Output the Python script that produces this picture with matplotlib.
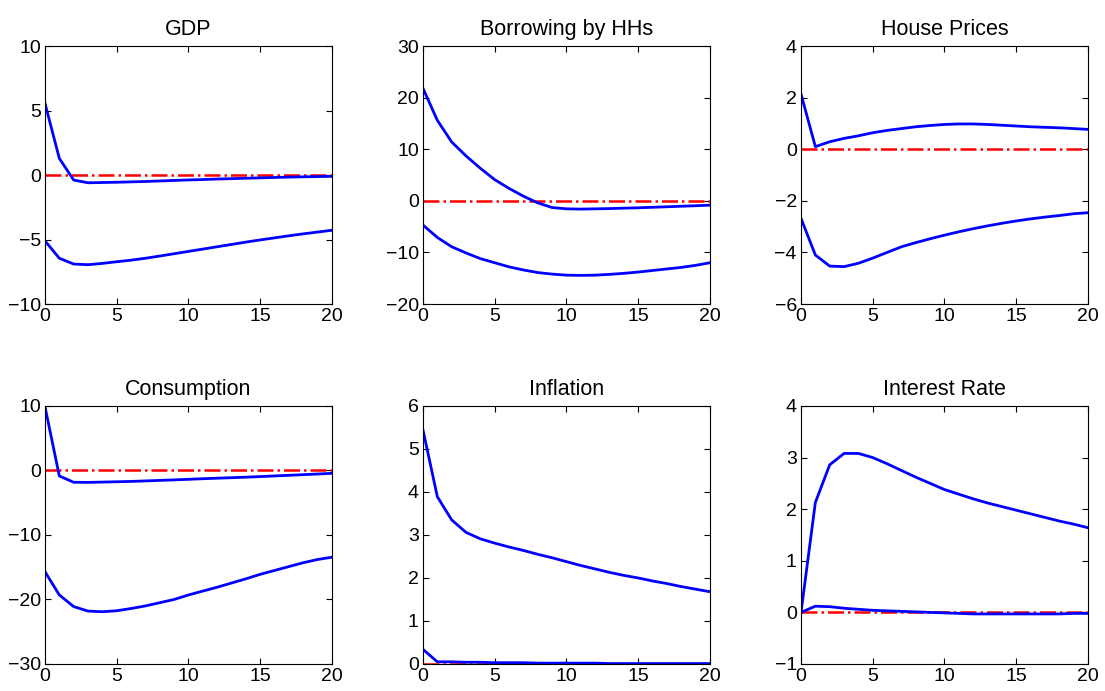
import matplotlib
matplotlib.use("Agg")
import matplotlib.pyplot as plt
import numpy as np

plt.rcParams['font.family'] = ['Liberation Sans', 'DejaVu Sans']

horizon = np.arange(21)

titles = ["GDP", "Borrowing by HHs", "House Prices",
          "Consumption", "Inflation", "Interest Rate"]

gdp_upper = [5.56, 1.29, -0.39, -0.6, -0.58, -0.56, -0.53, -0.5, -0.46, -0.42, -0.38,
             -0.35, -0.31, -0.28, -0.25, -0.22, -0.19, -0.16, -0.14, -0.12, -0.1]
gdp_lower = [-5.1, -6.45, -6.9, -6.95, -6.85, -6.72, -6.6, -6.45, -6.28, -6.1, -5.92,
             -5.74, -5.56, -5.38, -5.2, -5.03, -4.87, -4.71, -4.56, -4.42, -4.28]

borrow_upper = [21.8, 15.6, 11.4, 8.7, 6.3, 4.1, 2.4, 0.9, -0.4, -1.3, -1.55,
                -1.6, -1.55, -1.5, -1.42, -1.35, -1.25, -1.15, -1.05, -0.95, -0.84]
borrow_lower = [-4.7, -7.1, -8.9, -10.1, -11.2, -12.0, -12.8, -13.4, -13.9, -14.2, -14.4,
                -14.45, -14.4, -14.25, -14.05, -13.8, -13.5, -13.2, -12.9, -12.5, -12.0]

house_upper = [2.14, 0.1, 0.29, 0.42, 0.52, 0.64, 0.73, 0.8, 0.87, 0.92, 0.96,
               0.98, 0.98, 0.96, 0.93, 0.9, 0.87, 0.85, 0.83, 0.8, 0.77]
house_lower = [-2.68, -4.1, -4.53, -4.55, -4.42, -4.22, -4.0, -3.78, -3.62, -3.47, -3.33,
               -3.2, -3.08, -2.97, -2.87, -2.78, -2.7, -2.63, -2.57, -2.5, -2.46]

cons_upper = [9.9, -0.85, -1.83, -1.85, -1.8, -1.75, -1.7, -1.62, -1.54, -1.46, -1.37,
              -1.28, -1.2, -1.12, -1.04, -0.95, -0.85, -0.75, -0.65, -0.55, -0.44]
cons_lower = [-15.7, -19.3, -21.1, -21.8, -21.9, -21.75, -21.4, -21.0, -20.5, -20.0, -19.3,
              -18.7, -18.1, -17.45, -16.8, -16.1, -15.5, -14.9, -14.3, -13.8, -13.45]

infl_upper = [5.44, 3.89, 3.35, 3.06, 2.91, 2.81, 2.72, 2.64, 2.55, 2.47, 2.38,
              2.29, 2.21, 2.13, 2.06, 2.0, 1.93, 1.87, 1.8, 1.74, 1.68]
infl_lower = [0.34, 0.05, 0.05, 0.04, 0.04, 0.03, 0.03, 0.03, 0.02, 0.02, 0.02,
              0.02, 0.02, 0.01, 0.01, 0.01, 0.01, 0.01, 0.01, 0.01, 0.01]

rate_upper = [0.0, 2.13, 2.86, 3.08, 3.08, 3.0, 2.88, 2.75, 2.62, 2.5, 2.38,
              2.29, 2.2, 2.12, 2.05, 1.98, 1.91, 1.84, 1.77, 1.71, 1.64]
rate_lower = [0.0, 0.12, 0.11, 0.08, 0.06, 0.04, 0.03, 0.02, 0.01, 0.0, -0.01,
              -0.02, -0.03, -0.03, -0.03, -0.03, -0.03, -0.03, -0.03, -0.02, -0.02]

uppers = [gdp_upper, borrow_upper, house_upper, cons_upper, infl_upper, rate_upper]
lowers = [gdp_lower, borrow_lower, house_lower, cons_lower, infl_lower, rate_lower]
ylims = [(-10, 10), (-20, 30), (-6, 4), (-30, 10), (0, 6), (-1, 4)]
yticks = [np.arange(-10, 11, 5), np.arange(-20, 31, 10), np.arange(-6, 5, 2),
          np.arange(-30, 11, 10), np.arange(0, 7, 1), np.arange(-1, 5, 1)]

fig = plt.figure(figsize=(11.05, 6.91), dpi=100)
lefts = [0.0407, 0.3828, 0.7249]
bottoms = [0.560, 0.0391]

for i in range(6):
    ax = fig.add_axes([lefts[i % 3], bottoms[i // 3], 0.2597, 0.3734])
    # zero line first, responses on top
    ax.plot(horizon, np.zeros(len(horizon)), color='red', linestyle='-.', linewidth=1.8)
    ax.plot(horizon, uppers[i], color='blue', linewidth=2.0)
    ax.plot(horizon, lowers[i], color='blue', linewidth=2.0)
    ax.set_xlim(0, 20)
    ax.set_ylim(*ylims[i])
    ax.set_xticks([0, 5, 10, 15, 20])
    ax.set_yticks(yticks[i])
    ax.tick_params(direction='in', top=True, right=True, length=4, width=0.8,
                   labelsize=14)
    ax.tick_params(axis='x', pad=3)
    ax.tick_params(axis='y', pad=3)
    for sp in ax.spines.values():
        sp.set_linewidth(0.8)
    ax.set_title(titles[i], fontsize=15.5, pad=8)

fig.savefig("out.png", dpi=100)
